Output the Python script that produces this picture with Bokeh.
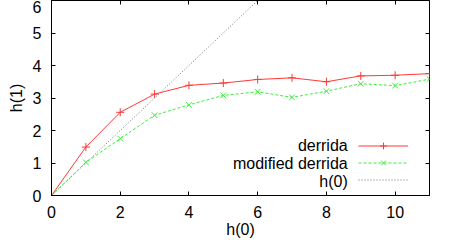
from bokeh.plotting import figure
from bokeh.models import Range1d, LinearAxis, FixedTicker, Legend, LegendItem, Label
from bokeh.embed import file_html
from bokeh.resources import INLINE

h0 = [0, 1, 2, 3, 4, 5, 6, 7, 8, 9, 10, 11]
derrida = [0, 1.49, 2.56, 3.12, 3.39, 3.46, 3.57, 3.62, 3.50, 3.68, 3.70, 3.75]
modified = [0, 1.02, 1.75, 2.47, 2.79, 3.08, 3.19, 3.02, 3.21, 3.44, 3.38, 3.58]
identity = [0, 1, 2, 3, 4, 5, 6, 7, 8, 9, 10, 11]
legend_names = ["derrida", "modified derrida", "h(0)"]
x_ticks = [0, 2, 4, 6, 8, 10]
y_ticks = [0, 1, 2, 3, 4, 5, 6]

FONT = "Liberation Sans"
FS = "16px"

p = figure(width=440, height=240, output_backend="svg", toolbar_location=None,
           x_range=Range1d(0, 11), y_range=Range1d(0, 6),
           min_border_left=51, min_border_right=11, min_border_top=0, min_border_bottom=44)
p.grid.visible = False
p.outline_line_color = "black"
p.outline_line_width = 1
p.background_fill_color = "white"
p.border_fill_color = "white"

for ax in (p.xaxis[0], p.yaxis[0]):
    ax.major_tick_in = 4
    ax.major_tick_out = 0
    ax.minor_tick_line_color = None
    ax.major_label_text_font = FONT
    ax.major_label_text_font_size = FS
    ax.major_label_text_color = "black"
    ax.axis_label_text_font = FONT
    ax.axis_label_text_font_size = FS
    ax.axis_label_text_font_style = "normal"
    ax.axis_label_text_color = "black"
    ax.axis_line_color = "black"
    ax.major_tick_line_color = "black"
    ax.major_label_standoff = 10

p.xaxis[0].ticker = FixedTicker(ticks=x_ticks)
p.yaxis[0].ticker = FixedTicker(ticks=y_ticks)
p.xaxis[0].axis_label = "h(0)"
p.yaxis[0].axis_label = "h(1)"
p.xaxis[0].axis_label_standoff = 0
p.yaxis[0].axis_label_standoff = 5

top = LinearAxis(ticker=FixedTicker(ticks=x_ticks), major_tick_in=4, major_tick_out=0,
                 minor_tick_line_color=None, major_label_text_font_size="1px",
                 major_label_overrides={t: "" for t in x_ticks},
                 major_label_standoff=0, axis_line_color=None)
right = LinearAxis(ticker=FixedTicker(ticks=y_ticks), major_tick_in=4, major_tick_out=0,
                   minor_tick_line_color=None, major_label_text_font_size="1px",
                   major_label_overrides={t: "" for t in y_ticks},
                   major_label_standoff=0, axis_line_color=None)
p.add_layout(top, "above")
p.add_layout(right, "right")

red = "#ff3838"
green = "#38f038"
gray = "#707070"

r_id = p.line(h0, identity, line_color=gray, line_dash="1 2", line_width=1)
r_mod_l = p.line(h0, modified, line_color=green, line_dash="3 2", line_width=1)
r_mod_m = p.scatter(h0, modified, marker="x", size=8, line_color=green, line_width=1)
r_der_l = p.line(h0, derrida, line_color=red, line_width=1)
r_der_m = p.scatter(h0, derrida, marker="cross", size=8, line_color=red, line_width=1)

legend = Legend(items=[
    LegendItem(label="", renderers=[r_der_l, r_der_m]),
    LegendItem(label="", renderers=[r_mod_l, r_mod_m]),
    LegendItem(label="", renderers=[r_id]),
], location=(307, 7), glyph_width=50, glyph_height=17, spacing=0, padding=0, margin=0,
   label_width=1, label_standoff=0, label_text_font_size="1px",
   border_line_color=None, background_fill_alpha=0)
p.add_layout(legend, "center")

legend_y = [1.55, 0.98, 0.43]
for name, ly in zip(legend_names, legend_y):
    p.add_layout(Label(x=8.62, y=ly, text=name, text_align="right", text_baseline="middle",
                       text_font=FONT, text_font_size=FS, text_color="black"))

open("out.html", "w").write(file_html(p, INLINE))
